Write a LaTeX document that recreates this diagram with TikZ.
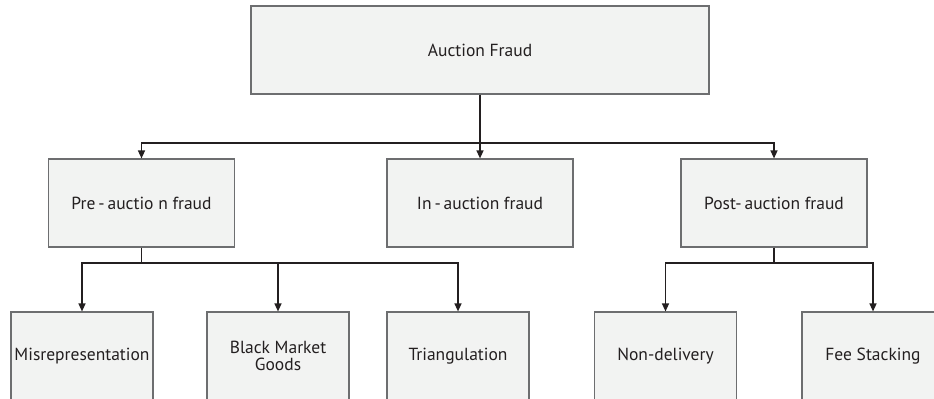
\documentclass[tikz,border=0pt]{standalone}
\usepackage{fontspec}
\setmainfont{PT Sans}
\usetikzlibrary{arrows.meta}

\definecolor{boxfill}{HTML}{F2F3F2}
\definecolor{boxline}{HTML}{6D6E70}
\definecolor{ink}{HTML}{231F20}

\tikzset{
  fraudbox/.style={draw=boxline, line width=0.7pt, fill=boxfill, text=ink,
    minimum height=52.8pt, inner sep=0pt, align=center, font=\fontsize{10.5}{10.5}\selectfont},
  topbox/.style={fraudbox, minimum width=274.8pt},
  midbox/.style={fraudbox, minimum width=111.6pt},
  leafbox/.style={fraudbox, minimum width=85.2pt},
  link/.style={draw=ink, line width=0.8pt},
}

\begin{document}
\begin{tikzpicture}[x=0.6pt, y=-0.6pt, >={Triangle[length=4.8pt, width=4.2pt]}]
    \clip (0,0) rectangle (934,398);
    \fill[white] (0,0) rectangle (934,398);

    % top level
    \node[topbox] (fraud) at (480,50) {Auction Fraud};

    % second level
    \node[midbox] (pre) at (141.5,203) {Pre\,-\,auctio n fraud};
    \node[midbox] (in) at (480,203) {In\,-\,auction fraud};
    \node[midbox] (post) at (774,203) {Post-\,auction fraud};

    % leaves
    \node[leafbox] (misrep) at (82,356) {Misrepresentation};
    \node[leafbox] (black) at (278,356) {Black Market\\Goods};
    \node[leafbox] (triang) at (458,356) {Triangulation};
    \node[leafbox] (nondel) at (665.5,356) {Non-delivery};
    \node[leafbox] (fee) at (873,356) {Fee Stacking};

    % connectors
    \coordinate (split1) at (480,143);
    \draw[link] (fraud.south) -- (split1);
    \draw[link, ->] (split1) -| (pre.north);
    \draw[link, ->] (split1) -- (in.north);
    \draw[link, ->] (split1) -| (post.north);

    \coordinate (split2) at (141.5,263);
    \draw[link] (pre.south) -- (split2);
    \draw[link, ->] (split2) -| (misrep.north);
    \draw[link, ->] (split2) -| (black.north);
    \draw[link, ->] (split2) -| (triang.north);

    \coordinate (split3) at (774,263);
    \draw[link] (post.south) -- (split3);
    \draw[link, ->] (split3) -| (nondel.north);
    \draw[link, ->] (split3) -| (fee.north);
\end{tikzpicture}
\end{document}
